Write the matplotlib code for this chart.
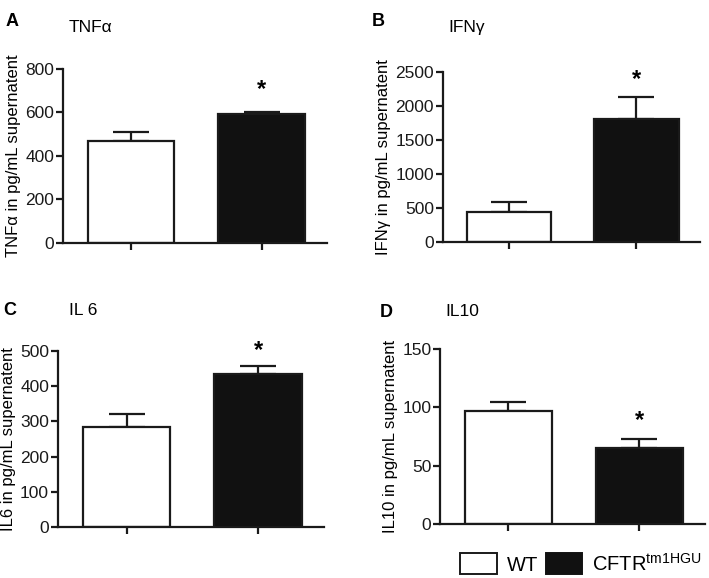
import matplotlib
matplotlib.use("Agg")
import matplotlib.pyplot as plt
from matplotlib.patches import Patch

plt.rcParams['font.family'] = ['Liberation Sans', 'DejaVu Sans']

# data (mean, upper error bar)
groups = ["WT", "CFTR$^{\\mathregular{tm1HGU}}$"]
tnf_mean = [469, 590]
tnf_err = [40, 12]
ifn_mean = [440, 1805]
ifn_err = [147, 328]
il6_mean = [284, 435]
il6_err = [38, 23]
il10_mean = [97, 65]
il10_err = [7.5, 8]

panels = [
    ("A", "TNFα", "TNFα in pg/mL supernatent", tnf_mean, tnf_err, [0, 200, 400, 600, 800]),
    ("B", "IFNγ", "IFNγ in pg/mL supernatent", ifn_mean, ifn_err, [0, 500, 1000, 1500, 2000, 2500]),
    ("C", "IL 6", "IL6 in pg/mL supernatent", il6_mean, il6_err, [0, 100, 200, 300, 400, 500]),
    ("D", "IL10", "IL10 in pg/mL supernatent", il10_mean, il10_err, [0, 50, 100, 150]),
]
# axes boxes [left, bottom, width, height] in figure fraction
boxes = [
    [0.089, 0.580, 0.372, 0.301],
    [0.625, 0.581, 0.362, 0.295],
    [0.082, 0.089, 0.375, 0.303],
    [0.621, 0.093, 0.373, 0.303],
]
letter_pos = [(0.008, 0.978), (0.524, 0.978), (0.005, 0.478), (0.536, 0.474)]
title_pos = [(0.097, 0.966), (0.632, 0.966), (0.097, 0.476), (0.628, 0.474)]
star_offset = [8, 4, 3, 5]

fig = plt.figure(figsize=(7.09, 5.78), dpi=100)

for i, (letter, title, ylabel, mean, err, ticks) in enumerate(panels):
    ax = fig.add_axes(boxes[i])
    x = [0, 1]
    ax.bar(x, mean, width=0.665, color=["white", "#111111"], edgecolor="#1a1a1a",
           linewidth=1.6, zorder=2)
    ax.errorbar(x, mean, yerr=[[0, 0], err], fmt="none", ecolor="#1a1a1a",
                elinewidth=1.6, capsize=13, capthick=1.6, zorder=1)
    # significance star above the CFTR bar
    ax.annotate("*", xy=(1, mean[1] + err[1]), xytext=(0, star_offset[i]),
                textcoords="offset points", ha="center", va="bottom", fontsize=17,
                fontweight="bold", annotation_clip=False)
    ax.set_xlim(-0.52, 1.5)
    ax.set_ylim(0, ticks[-1])
    ax.set_yticks(ticks)
    ax.set_xticks(x)
    ax.set_xticklabels(["", ""])
    for s in ["top", "right"]:
        ax.spines[s].set_visible(False)
    for s in ["left", "bottom"]:
        ax.spines[s].set_linewidth(1.6)
        ax.spines[s].set_color("#1a1a1a")
    ax.tick_params(axis="both", direction="out", length=5, width=1.6, labelsize=12.5,
                   colors="#1a1a1a", pad=1.5)
    ax.set_ylabel(ylabel, fontsize=12, labelpad=3)
    fig.text(*letter_pos[i], letter, fontsize=13, fontweight="bold", va="top")
    fig.text(*title_pos[i], title, fontsize=12.5, va="top")

handles = [Patch(facecolor="white", edgecolor="#1a1a1a", linewidth=1.4),
           Patch(facecolor="#111111", edgecolor="#111111", linewidth=1.4)]
fig.legend(handles, groups, loc="lower left", bbox_to_anchor=(0.638, -0.008), ncol=2,
           frameon=False, fontsize=14.5, handlelength=1.8, handleheight=1.2,
           handletextpad=0.5, columnspacing=0.4, borderaxespad=0)

fig.savefig("out.png", dpi=100)
